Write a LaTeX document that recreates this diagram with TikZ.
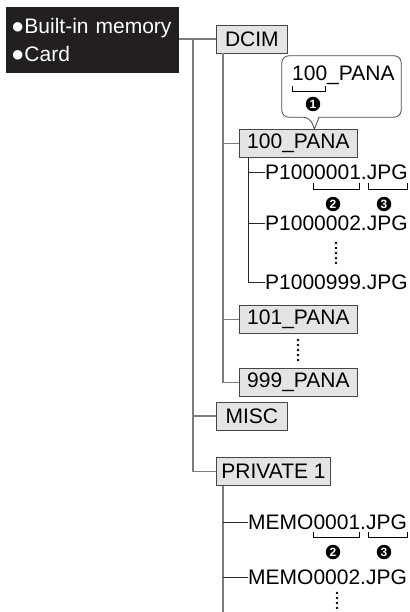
\documentclass[tikz,border=0pt]{standalone}
\usepackage{fontspec}
\setmainfont{Liberation Sans}
\usepackage{xcolor}
\definecolor{memfill}{RGB}{35,31,32}
\definecolor{boxfill}{RGB}{228,228,228}
\definecolor{treeline}{RGB}{125,125,125}
\definecolor{boxline}{RGB}{70,70,70}

\begin{document}
\begin{tikzpicture}[x=1pt, y=-1pt,
  lbl/.style={font=\fontsize{21}{28}\selectfont, inner sep=0pt, anchor=west},
  fold/.style={draw=boxline, line width=0.8pt, fill=boxfill, font=\fontsize{21}{28}\selectfont,
               inner xsep=5pt, inner ysep=0pt, minimum height=28pt, anchor=west},
  tree/.style={treeline, line width=1.6pt},
  leaf/.style={black!85, line width=0.9pt},
  brk/.style={black, line width=0.7pt},
  num/.style={circle, fill=black, text=white, inner sep=0pt, minimum size=14.5pt,
              font=\fontsize{12}{12}\selectfont\bfseries},
  dots/.style={black, line width=2.6pt, line cap=round, dash pattern=on 0pt off 5pt}
]
\useasboundingbox (0,0) rectangle (409,612);

\node[fill=memfill, text=white, anchor=north west, minimum width=173pt, minimum height=66pt,
      inner xsep=5pt, text width=163pt, align=left, font=\fontsize{21}{28}\selectfont] (mem) at (6,7)
  {{\fontsize{22}{22}\selectfont ●}Built-in memory\\{\fontsize{22}{22}\selectfont ●}Card};

\node[fold, minimum width=71pt] (dcim) at (216,39) {DCIM};
\node[fold, minimum width=118pt] (p100) at (239,143.5) {100\_PANA};
\node[fold, minimum width=118pt] (p101) at (239,319.5) {101\_PANA};
\node[fold, minimum width=118pt] (p999) at (239,382.5) {999\_PANA};
\node[fold, minimum width=71pt] (misc) at (216,416) {MISC};
\node[fold] (priv) at (216,471.5) {PRIVATE 1};

\node[lbl] (f1) at (265,172) {P1000001.JPG};
\node[lbl] (f2) at (265,223) {P1000002.JPG};
\node[lbl] (f999) at (265,282) {P1000999.JPG};
\node[lbl] (m1) at (248,522) {MEMO0001.JPG};
\node[lbl] (m2) at (248,577) {MEMO0002.JPG};

% callout over 100_PANA
\node[minimum width=119pt, minimum height=61pt, inner sep=0pt] (call) at (341.5,86.5) {};
\node[lbl] (calltxt) at (292,75) {100\_PANA};
\coordinate (tip) at ([xshift=16pt]p100.north);
\draw[boxline, line width=0.8pt] ([xshift=-22.5pt]call.south) [rounded corners=7pt]
  -- (call.south east) -- (call.north east) -- (call.north west) -- (call.south west)
  -- ([xshift=-31.5pt]call.south) [sharp corners] -- (tip) -- cycle;
\draw[brk] (292,86) |- (325,91) -- (325,86);
\node[num] (n1) at (313,104) {1};

% tree
\coordinate (root) at (193,39);
\coordinate (privend) at (223,612);
\draw[tree] (mem.east |- dcim.west) -- (dcim.west);
\draw[tree] (root) |- (misc.west);
\draw[tree] (root) |- (priv.west);
\draw[tree] ([xshift=7pt]dcim.south west) |- (p100.west);
\draw[tree] ([xshift=7pt]dcim.south west) |- (p101.west);
\draw[tree] ([xshift=7pt]dcim.south west) |- (p999.west);
\draw[leaf] ([xshift=9pt]p100.south west) |- (f1.west);
\draw[leaf] ([xshift=9pt]p100.south west) |- (f2.west);
\draw[leaf] ([xshift=9pt]p100.south west) |- (f999.west);
\draw[tree] ([xshift=7pt]priv.south west) -- (privend);
\draw[leaf] (m1.west -| privend) -- (m1.west);
\draw[leaf] (m2.west -| privend) -- (m2.west);

% brackets and numbers
\draw[brk] (313,183) |- (359,189) -- (359,183);
\draw[brk] (368,183) |- (407,189) -- (407,183);
\node[num] (n2a) at (333,204) {2};
\node[num] (n3a) at (384,204) {3};
\draw[brk] (313,532) |- (359,537) -- (359,532);
\draw[brk] (368,532) |- (407,537) -- (407,532);
\node[num] (n2b) at (333,552) {2};
\node[num] (n3b) at (384,552) {3};

\draw[dots] (336,243) -- (336,263);
\draw[dots] (298,340) -- (298,360);
\draw[dots] (337,593) -- (337,610);
\end{tikzpicture}
\end{document}
